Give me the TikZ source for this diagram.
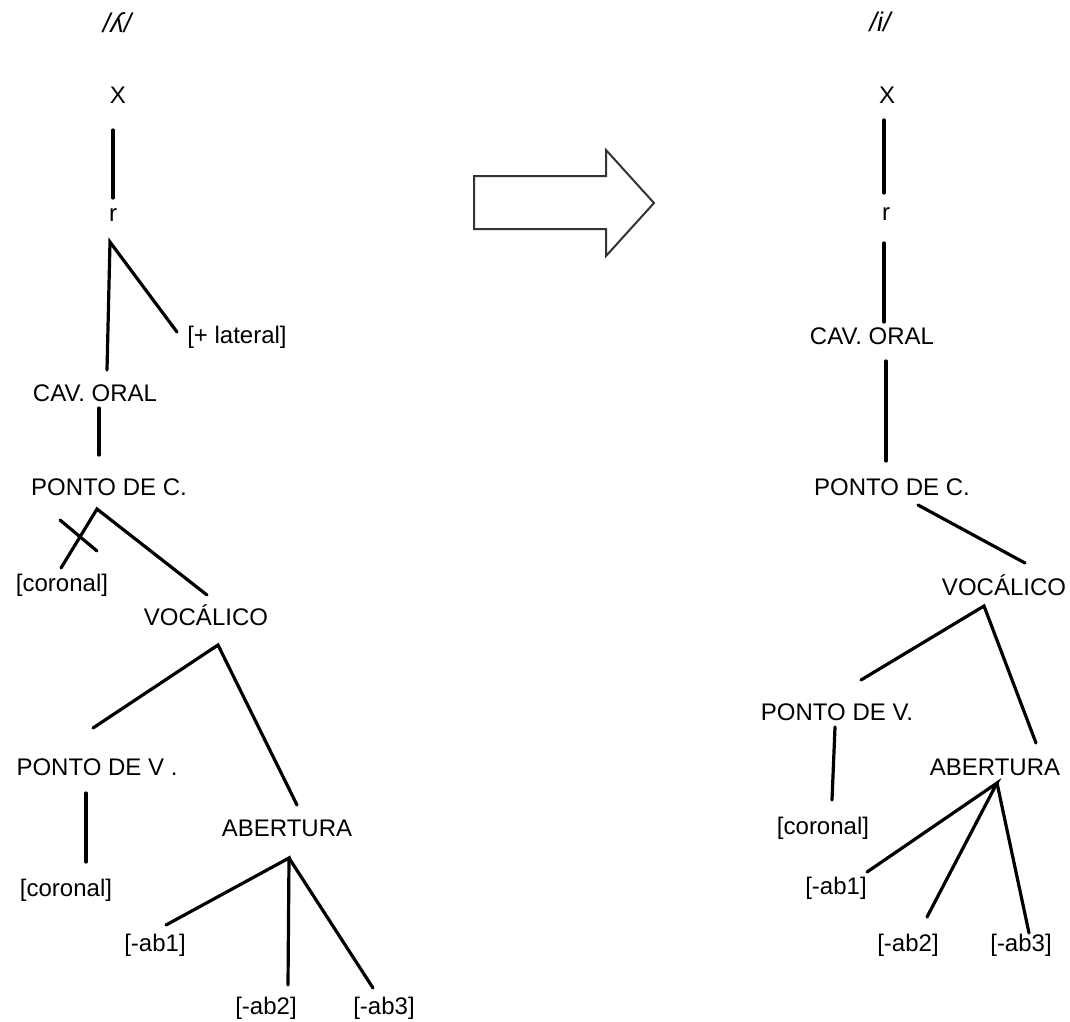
\documentclass[tikz,border=0pt]{standalone}
\usepackage{fontspec}
\setmainfont{Liberation Sans}
\begin{document}
\begin{tikzpicture}[x=1pt,y=-1pt,
  lbl/.style={inner sep=0pt,font=\fontsize{24}{28}\selectfont},
  phon/.style={inner sep=0pt,font=\fontsize{27}{30}\selectfont\itshape},
  edge/.style={line width=3.2pt,line cap=round},
  bigarrow/.style={draw=black!80,line width=2pt,fill=white,line join=miter}]
\useasboundingbox (0,0) rectangle (1070,1021);

% ---------- left tree: the lateral palatal ----------
\node[phon] (Lph) at (117,23) {/ʎ/};
\node[lbl] (LX) at (118,95) {X};
\node[lbl] (Lr) at (113,215) {r};
\node[lbl] (Llat) at (237,337) {[+ lateral]};
\node[lbl] (Lcav) at (95,393) {CAV. ORAL};
\node[lbl] (Lpc) at (109,487) {PONTO DE C.};
\node[lbl] (Lcor1) at (62,585) {[coronal]};
\node[lbl] (Lvoc) at (206,615) {VOCÁLICO};
\node[lbl] (Lpv) at (97,767) {PONTO DE V .};
\node[lbl] (Lcor2) at (66,890) {[coronal]};
\node[lbl] (Lab) at (287,828) {ABERTURA};
\node[lbl] (Lab1) at (155,945) {[-ab1]};
\node[lbl] (Lab2) at (266,1008) {[-ab2]};
\node[lbl] (Lab3) at (384,1008) {[-ab3]};

\coordinate (LXb) at (113,130);
\coordinate (Lrt) at (113,198);
\coordinate (Lra) at (110,242);
\coordinate (Lcavt) at (107,370);
\coordinate (Llatl) at (177,332);
\coordinate (Lcavb) at (99,408);
\coordinate (Lpct) at (99,455);
\coordinate (Lpca) at (97,509);
\coordinate (Lcor1t) at (61,568);
\coordinate (Lvoct) at (207,595);
\coordinate (Lxa) at (60,520);
\coordinate (Lxb) at (97,551);
\coordinate (Lvoca) at (218,645);
\coordinate (Lpvt) at (93,728);
\coordinate (Labt) at (297,805);
\coordinate (Lpvb) at (86,793);
\coordinate (Lcor2t) at (86,862);
\coordinate (Laba) at (289,858);
\coordinate (Lab1t) at (166,925);
\coordinate (Lab2t) at (288,985);
\coordinate (Lab3t) at (373,988);

\draw[edge] (LXb) -- (Lrt);
\draw[edge] (Lcavt) -- (Lra) -- (Llatl);
\draw[edge] (Lcavb) -- (Lpct);
\draw[edge] (Lcor1t) -- (Lpca) -- (Lvoct);
\draw[edge] (Lxa) -- (Lxb);
\draw[edge] (Lpvt) -- (Lvoca) -- (Labt);
\draw[edge] (Lpvb) -- (Lcor2t);
\draw[edge] (Lab1t) -- (Laba) -- (Lab2t);
\draw[edge] (Laba) -- (Lab3t);

% ---------- block arrow ----------
\draw[bigarrow] (474,176) -- (606,176) -- (606,150) -- (654,203)
  -- (606,256) -- (606,229) -- (474,229) -- cycle;

% ---------- right tree: the vowel ----------
\node[phon] (Rph) at (880,22) {/i/};
\node[lbl] (RX) at (887,95) {X};
\node[lbl] (Rr) at (886,214) {r};
\node[lbl] (Rcav) at (872,336) {CAV. ORAL};
\node[lbl] (Rpc) at (892,487) {PONTO DE C.};
\node[lbl] (Rvoc) at (1004,585) {VOCÁLICO};
\node[lbl] (Rpv) at (837,712) {PONTO DE V.};
\node[lbl] (Rcor) at (823,828) {[coronal]};
\node[lbl] (Rab) at (995,767) {ABERTURA};
\node[lbl] (Rab1) at (836,888) {[-ab1]};
\node[lbl] (Rab2) at (908,945) {[-ab2]};
\node[lbl] (Rab3) at (1021,945) {[-ab3]};

\coordinate (RXb) at (884,120);
\coordinate (Rrt) at (884,193);
\coordinate (Rrb) at (884,243);
\coordinate (Rcavt) at (884,322);
\coordinate (Rcavb) at (886,361);
\coordinate (Rpct) at (886,461);
\coordinate (Rpcb) at (918,505);
\coordinate (Rvoct) at (1025,563);
\coordinate (Rvoca) at (984,606);
\coordinate (Rpvt) at (861,680);
\coordinate (Rabt) at (1036,743);
\coordinate (Rpvb) at (835,727);
\coordinate (Rcort) at (832,800);
\coordinate (Raba) at (997,783);
\coordinate (Rab1t) at (867,872);
\coordinate (Rab2t) at (927,917);
\coordinate (Rab3t) at (1029,933);

\draw[edge] (RXb) -- (Rrt);
\draw[edge] (Rrb) -- (Rcavt);
\draw[edge] (Rcavb) -- (Rpct);
\draw[edge] (Rpcb) -- (Rvoct);
\draw[edge] (Rpvt) -- (Rvoca) -- (Rabt);
\draw[edge] (Rpvb) -- (Rcort);
\draw[edge] (Rab1t) -- (Raba) -- (Rab2t);
\draw[edge] (Raba) -- (Rab3t);
\end{tikzpicture}
\end{document}
